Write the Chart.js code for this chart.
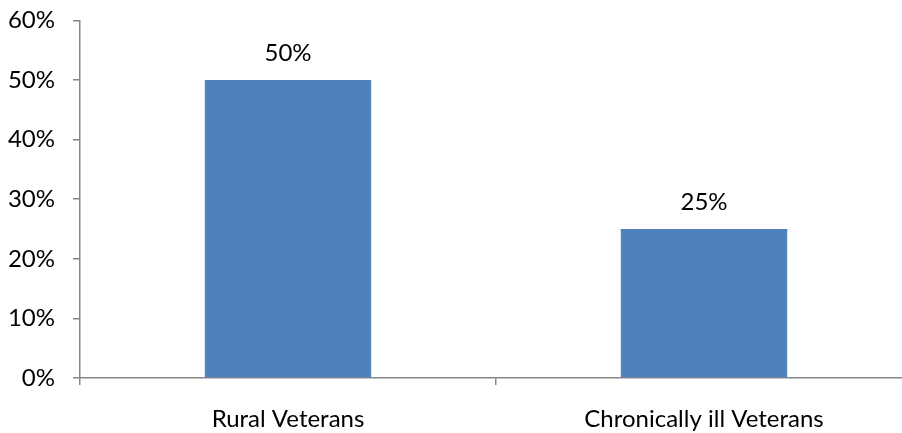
<!DOCTYPE html>
<html>
<head>
<meta charset="utf-8">
<script src="https://cdn.jsdelivr.net/npm/chart.js@4/dist/chart.umd.min.js"></script>
<style>
  html, body { margin: 0; padding: 0; background: #fff; overflow: hidden; }
  #wrap { width: 920px; height: 445px; margin-top: -12px; }
</style>
</head>
<body>
<div id="wrap"><canvas id="chart"></canvas></div>
<script>
const categories = ['Rural Veterans', 'Chronically ill Veterans'];
const values = [50, 25];
const yTicks = [0, 10, 20, 30, 40, 50, 60];

const axisColor = '#868686';
const font = { family: 'Lato, "Open Sans", sans-serif', size: 24 };

// draw value labels above bars
const valueLabels = {
    id: 'valueLabels',
    afterDatasetsDraw(chart) {
        const ctx = chart.ctx;
        const meta = chart.getDatasetMeta(0);
        ctx.save();
        ctx.font = font.size + 'px ' + font.family;
        ctx.fillStyle = '#000';
        ctx.textAlign = 'center';
        ctx.textBaseline = 'middle';
        meta.data.forEach((bar, i) => {
            ctx.fillText(values[i] + '%', bar.x, bar.y - 27);
        });
        ctx.restore();
    }
};

new Chart(document.getElementById('chart').getContext('2d'), {
    type: 'bar',
    data: {
        labels: categories,
        datasets: [{
            data: values,
            backgroundColor: '#4F81BD',
            barPercentage: 0.4,
            categoryPercentage: 1.0
        }]
    },
    options: {
        responsive: true,
        maintainAspectRatio: false,
        animation: false,
        layout: { padding: { top: 8, right: 8, left: 0, bottom: 0 } },
        plugins: {
            legend: { display: false },
            tooltip: { enabled: false }
        },
        scales: {
            x: {
                grid: { display: true, drawOnChartArea: false, drawTicks: true, tickLength: 7, color: axisColor, lineWidth: 1.5, offset: true },
                border: { color: axisColor, width: 1.5 },
                ticks: { color: '#000', font: font, padding: 20, maxRotation: 0 },
                afterFit(scale) { scale.height = 55; }
            },
            y: {
                min: 0,
                max: 60,
                afterBuildTicks(scale) { scale.ticks = yTicks.map(v => ({ value: v })); },
                grid: { display: true, drawOnChartArea: false, drawTicks: true, tickLength: 7, color: axisColor, lineWidth: 1.5 },
                border: { color: axisColor, width: 1.5 },
                ticks: { color: '#000', font: font, padding: 18, callback: v => v + '%' },
                afterFit(scale) { scale.width = 80; }
            }
        }
    },
    plugins: [valueLabels]
});
</script>
</body>
</html>
